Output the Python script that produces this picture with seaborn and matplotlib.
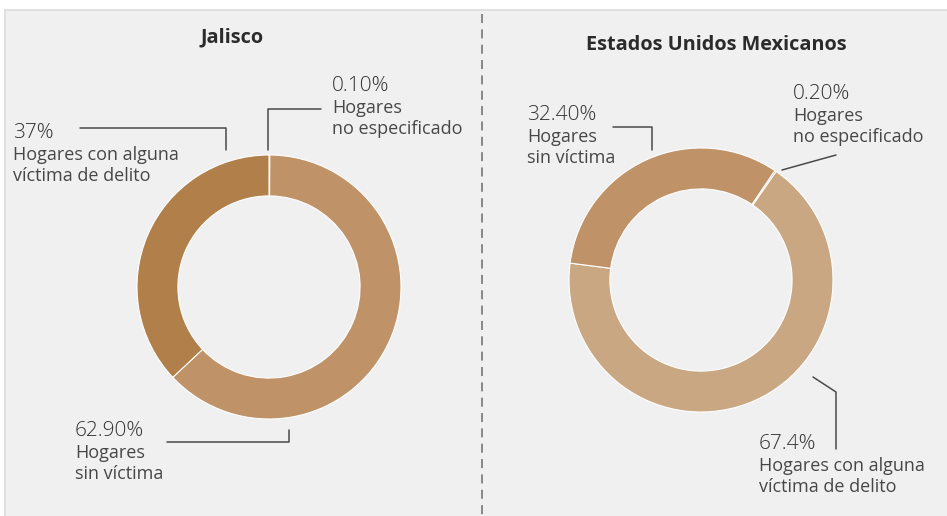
import matplotlib
matplotlib.use("Agg")
import matplotlib.pyplot as plt
import seaborn as sns
from matplotlib.patches import Rectangle

# datos
categorias = ["Hogares con alguna\nvíctima de delito", "Hogares\nsin víctima", "Hogares\nno especificado"]
jalisco = [37.0, 62.90, 0.10]
nacional = [67.4, 32.40, 0.20]
etiquetas_jal = ["37%", "62.90%", "0.10%"]
etiquetas_nac = ["67.4%", "32.40%", "0.20%"]

col_jal = ["#b07f4a", "#bf9268", "#dcc3a2"]
col_nac = ["#c9a783", "#bf9268", "#b07f4a"]

sns.set_theme(style="white")
plt.rcParams["font.family"] = ["Open Sans", "DejaVu Sans"]

W, H = 947, 516
fig = plt.figure(figsize=(W / 100, H / 100), dpi=100)
fig.patch.set_facecolor("white")

# capa de fondo en pixeles
bg = fig.add_axes([0, 0, 1, 1])
bg.set_xlim(0, W)
bg.set_ylim(H, 0)
bg.axis("off")
bg.add_patch(Rectangle((5, 10), W, H, facecolor="#eff0ef", edgecolor="#dcdcdc", lw=1.2))
bg.plot([482, 482], [14, H], color="#808080", lw=1.3, ls=(0, (5, 3.5)))


def donut(cx, cy, r, valores, colores, orden, start):
    ax = fig.add_axes([(cx - r) / W, (H - cy - r) / H, 2 * r / W, 2 * r / H])
    vals = [valores[i] for i in orden]
    cols = [colores[i] for i in orden]
    ax.pie(vals, colors=cols, startangle=start, counterclock=False,
           radius=1, wedgeprops=dict(width=0.31, edgecolor="white", linewidth=0.8))
    ax.set_xlim(-1, 1)
    ax.set_ylim(-1, 1)
    ax.set_aspect("equal")
    ax.axis("off")
    return ax


donut(269, 287, 132, jalisco, col_jal, [2, 1, 0], 90)
donut(701, 280, 132, nacional, col_nac, [2, 0, 1], 56)

# titulos
bg.text(232, 42, "Jalisco", ha="center", va="baseline", fontsize=14.3, fontweight="bold", color="#2b2b2b")
bg.text(716, 50, "Estados Unidos Mexicanos", ha="center", va="baseline", fontsize=14.3,
        fontweight="bold", color="#2b2b2b")


def etiqueta(x, y0, numero, texto):
    bg.text(x, y0, numero, ha="left", va="baseline", fontsize=15, fontweight="light", color="#333333")
    for k, linea in enumerate(texto.split("\n")):
        bg.text(x, y0 + 22 + 21 * k, linea, ha="left", va="baseline", fontsize=13, color="#474747")


lc = dict(color="#4a4a4a", lw=1.1)

# Jalisco
etiqueta(13, 138, etiquetas_jal[0], categorias[0])
bg.plot([80, 226, 226], [128, 128, 150], **lc)
etiqueta(332, 91, etiquetas_jal[2], categorias[2])
bg.plot([321, 268, 268], [109, 109, 150], **lc)
etiqueta(75, 436, etiquetas_jal[1], categorias[1])
bg.plot([167, 289, 289], [442, 442, 430], **lc)

# Nacional
etiqueta(527, 120, etiquetas_nac[1], categorias[1])
bg.plot([613, 652, 652], [127, 127, 150], **lc)
etiqueta(793, 99, etiquetas_nac[2], categorias[2])
bg.plot([836, 782], [155, 170], **lc)
etiqueta(759, 449, etiquetas_nac[0], categorias[0])
bg.plot([813, 836, 836], [377, 392, 449], **lc)

fig.savefig("out.png", dpi=100, facecolor="white")
